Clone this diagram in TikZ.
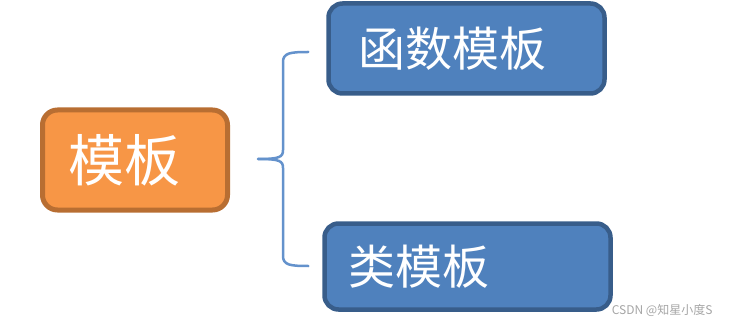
\documentclass[tikz,border=0pt]{standalone}
\usepackage{fontspec}
\newfontfamily\cjk{Noto Sans CJK SC}
\usepackage{tikz}
\usetikzlibrary{calc}
\definecolor{TplFill}{RGB}{247,150,70}
\definecolor{TplLine}{RGB}{184,110,50}
\definecolor{SubFill}{RGB}{79,129,189}
\definecolor{SubLine}{RGB}{56,93,138}
\definecolor{BrcLine}{RGB}{100,146,204}
\definecolor{MarkGray}{RGB}{165,165,165}
\tikzset{
  nd_root/.style={
    rectangle, rounded corners=15pt,
    draw=TplLine, fill=TplFill, line width=5pt,
    minimum width=185pt, minimum height=100pt,
    inner xsep=26pt, text width=133pt, align=left,
    text=white, font=\cjk\fontsize{56}{60}\selectfont},
  nd_sub/.style={
    rectangle, rounded corners=14pt,
    draw=SubLine, fill=SubFill, line width=4.5pt,
    align=left, text=white, font=\cjk\fontsize{47}{52}\selectfont},
  brc/.style={draw=BrcLine, line width=2.5pt, line cap=round},
  wmark/.style={font=\cjk\fontsize{12}{14}\selectfont, text=MarkGray},
}
\begin{document}
\begin{tikzpicture}[x=1pt,y=-1pt]

\useasboundingbox (0,0) rectangle (733,323);

%% root and children
\node[nd_root] at (135,160) (root){模板};
\node[nd_sub, minimum width=276pt, minimum height=90pt,
      inner xsep=30pt, text width=216pt] at (466.5,48.5) (fun){函数模板};
\node[nd_sub, minimum width=286pt, minimum height=86pt,
      inner xsep=24pt, text width=238pt] at (467.5,266.5) (cls){类模板};

%% brace ends
\coordinate (BM) at ($(root.east)+(28,-1)$);
\coordinate (BT) at ($(fun.west)+(-18,3.5)$);
\coordinate (BB) at ($(cls.west)+(-14,-0.5)$);

\draw[brc] (BT) .. controls (290,52) and (283,53) .. (283,62) -- (283,150)
  .. controls (283,157) and (280,159) .. (BM);
\draw[brc] (BM) .. controls (280,159) and (283,161) .. (283,168) -- (283,256)
  .. controls (283,265) and (290,266) .. (BB);

%% watermark
\node[wmark, anchor=east] at (716,310) (wm){CSDN @知星小度S};

\end{tikzpicture}
\end{document}
